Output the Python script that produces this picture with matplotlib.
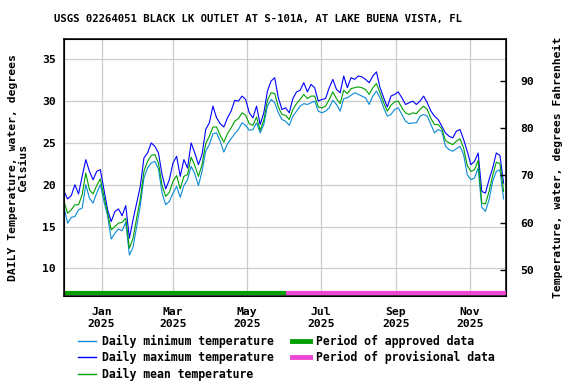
import matplotlib
matplotlib.use("Agg")
import matplotlib.pyplot as plt
import matplotlib.transforms as mtransforms
import pandas as pd
from matplotlib.lines import Line2D

title = "USGS 02264051 BLACK LK OUTLET AT S-101A, AT LAKE BUENA VISTA, FL"

# sample dates every 3 days starting 2024-12-01
dates = pd.date_range("2024-12-01", periods=122, freq="3D")

temp_max = [19.2, 18.3, 18.7, 20.0, 18.9, 21.0, 23.0, 21.6, 20.6, 21.6,
            21.8, 19.4, 17.0, 15.6, 16.8, 17.1, 16.3, 17.5, 13.6, 15.8,
            17.8, 19.8, 23.2, 23.8, 25.0, 24.6, 23.8, 21.2, 19.5, 20.6,
            22.6, 23.4, 21.0, 23.0, 22.0, 25.0, 23.8, 22.4, 23.6, 26.6,
            27.4, 29.4, 28.0, 27.3, 26.9, 28.0, 28.8, 30.1, 30.0, 30.6,
            30.2, 28.6, 28.0, 29.4, 27.2, 28.6, 31.2, 32.4, 32.8, 30.4,
            29.0, 29.2, 28.6, 30.3, 31.1, 31.3, 32.2, 31.1, 32.0, 31.6,
            30.0, 30.2, 30.3, 31.6, 32.6, 31.4, 31.0, 33.0, 31.6, 32.8,
            32.6, 33.0, 32.9, 32.6, 32.2, 33.0, 33.5, 31.6, 30.4, 29.3,
            30.6, 30.8, 31.1, 30.4, 29.6, 29.8, 30.0, 29.6, 30.0, 30.6,
            29.8, 28.8, 28.2, 27.8, 27.0, 26.2, 25.8, 25.6, 26.4, 26.6,
            25.4, 24.0, 22.4, 22.8, 23.8, 19.2, 19.0, 20.6, 22.0, 23.8,
            23.5, 20.2]

temp_min = [17.3, 15.4, 16.1, 16.2, 17.0, 17.2, 20.0, 18.4, 17.8, 19.0,
            20.0, 18.0, 16.3, 13.5, 14.2, 14.7, 14.5, 15.5, 11.6, 12.5,
            15.0, 17.5, 20.8, 22.0, 22.6, 22.8, 21.9, 19.0, 17.6, 18.0,
            19.0, 19.8, 18.5, 19.9, 20.6, 22.2, 21.3, 19.9, 21.6, 24.0,
            24.8, 26.1, 26.2, 25.2, 23.9, 24.9, 25.5, 26.1, 26.6, 27.4,
            27.1, 26.5, 26.6, 27.4, 26.2, 27.2, 29.4, 30.2, 29.8, 28.6,
            27.8, 27.6, 27.1, 28.2, 28.8, 29.4, 29.7, 29.6, 29.8, 30.0,
            28.8, 28.6, 28.8, 29.2, 30.1, 29.6, 28.8, 30.3, 30.4, 30.7,
            31.0, 30.8, 30.6, 30.4, 29.6, 30.6, 31.2, 30.4, 29.2, 28.2,
            28.4, 29.0, 29.2, 28.4, 27.6, 27.3, 27.4, 27.4, 28.2, 28.4,
            28.2, 27.2, 26.2, 26.6, 26.4, 24.6, 24.2, 24.0, 24.3, 24.6,
            23.6, 21.2, 20.6, 20.8, 22.0, 17.3, 16.8, 18.2, 20.4, 21.6,
            21.8, 18.3]

temp_mean = [18.0, 16.6, 17.0, 17.6, 17.6, 18.8, 21.4, 19.4, 18.9, 19.9,
             20.7, 18.6, 16.6, 14.6, 15.0, 15.4, 15.5, 16.0, 12.4, 13.6,
             16.0, 18.3, 21.6, 22.8, 23.5, 23.6, 22.6, 19.9, 18.6, 19.1,
             20.4, 21.1, 19.5, 21.0, 21.2, 23.3, 22.3, 21.0, 22.4, 24.9,
             25.8, 26.9, 26.9, 25.9, 25.1, 26.1, 26.8, 27.6, 27.9, 28.6,
             28.3, 27.3, 27.1, 28.1, 26.5, 27.7, 30.1, 31.0, 30.9, 29.3,
             28.4, 28.3, 27.8, 29.0, 29.7, 30.2, 30.8, 30.3, 30.6, 30.6,
             29.3, 29.2, 29.4, 30.2, 31.1, 30.3, 29.7, 31.3, 30.9, 31.5,
             31.6, 31.7, 31.6, 31.4, 30.8, 31.6, 32.1, 31.0, 29.8, 28.8,
             29.5, 29.9, 30.0, 29.2, 28.6, 28.4, 28.6, 28.5, 29.0, 29.4,
             29.0, 27.9, 27.2, 27.2, 26.7, 25.3, 25.0, 24.8, 25.2, 25.5,
             24.4, 22.3, 21.6, 21.8, 22.9, 17.8, 17.7, 19.2, 21.1, 22.7,
             22.5, 19.2]

approved_period = ("2024-12-01", "2025-06-02")
provisional_period = ("2025-06-02", "2025-12-01")

x_start, x_end = "2024-12-01", "2025-12-01"
tick_months = ["2025-01-01", "2025-03-01", "2025-05-01", "2025-07-01", "2025-09-01", "2025-11-01"]
tick_labels = ["Jan\n2025", "Mar\n2025", "May\n2025", "Jul\n2025", "Sep\n2025", "Nov\n2025"]
c_ticks = [10, 15, 20, 25, 30, 35]
f_ticks = [50, 60, 70, 80, 90]

C_MIN = "#0a8ad6"
C_MAX = "#0000ff"
C_MEAN = "#00a000"
C_APPR = "#00a000"
C_PROV = "#f046d8"

FONT = "DejaVu Sans Mono"

fig = plt.figure(figsize=(5.76, 3.84), dpi=100)
ax = fig.add_axes([64/576, 1-296/384, (506-64)/576, (296-39)/384])

ax.plot(dates, temp_min, color=C_MIN, lw=0.8, zorder=3)
ax.plot(dates, temp_max, color=C_MAX, lw=0.8, zorder=4)
ax.plot(dates, temp_mean, color=C_MEAN, lw=0.8, zorder=5)

trans = mtransforms.blended_transform_factory(ax.transData, ax.transAxes)
ax.plot(pd.to_datetime(list(approved_period)), [0.012, 0.012], color=C_APPR, lw=3.0,
        transform=trans, solid_capstyle="butt", zorder=6)
ax.plot(pd.to_datetime(list(provisional_period)), [0.012, 0.012], color=C_PROV, lw=3.0,
        transform=trans, solid_capstyle="butt", zorder=6)

ax.set_xlim(pd.Timestamp(x_start), pd.Timestamp(x_end))
ax.set_ylim(6.69, 37.43)
ax.set_xticks(pd.to_datetime(tick_months))
ax.set_xticklabels(tick_labels, fontfamily=FONT, fontweight="bold", fontsize=8.2)
ax.set_yticks(c_ticks)
ax.set_yticklabels([str(v) for v in c_ticks], fontfamily=FONT, fontweight="bold", fontsize=8.2)
ax.tick_params(axis="both", length=0, pad=6)
ax.tick_params(axis="x", pad=8)
ax.grid(True, color="#cccccc", lw=0.9)
ax.set_axisbelow(True)
for s in ax.spines.values():
    s.set_linewidth(1.1)

ax.set_ylabel("DAILY Temperature, water, degrees\nCelsius", fontfamily=FONT,
              fontweight="bold", fontsize=8.2, labelpad=10, linespacing=1.0)

ax2 = ax.twinx()
ax2.set_ylim(44.51, 98.81)
ax2.set_yticks(f_ticks)
ax2.set_yticklabels([str(v) for v in f_ticks], fontfamily=FONT, fontweight="bold", fontsize=8.2)
ax2.tick_params(axis="y", direction="in", length=4, width=1, pad=10)
ax2.set_ylabel("Temperature, water, degrees Fahrenheit", fontfamily=FONT,
               fontweight="bold", fontsize=8.2, labelpad=14)

fig.text(258/576, 1-19/384, title, ha="center", va="center", fontfamily=FONT,
         fontweight="bold", fontsize=7.7)

handles = [
    Line2D([], [], color=C_MIN, lw=1.0),
    Line2D([], [], color=C_MAX, lw=1.0),
    Line2D([], [], color=C_MEAN, lw=1.0),
    Line2D([], [], color=C_APPR, lw=3.5),
    Line2D([], [], color=C_PROV, lw=3.5),
]
labels = ["Daily minimum temperature", "Daily maximum temperature", "Daily mean temperature",
          "Period of approved data", "Period of provisional data"]
fig.legend(handles, labels, loc="upper left", bbox_to_anchor=(78/576, 1-335/384),
           ncol=2, frameon=False, borderpad=0, borderaxespad=0,
           handlelength=1.55, handletextpad=0.5, columnspacing=1.6, labelspacing=0.28,
           prop={"family": FONT, "weight": "bold", "size": 8.3})

fig.savefig("out.png", dpi=100)
